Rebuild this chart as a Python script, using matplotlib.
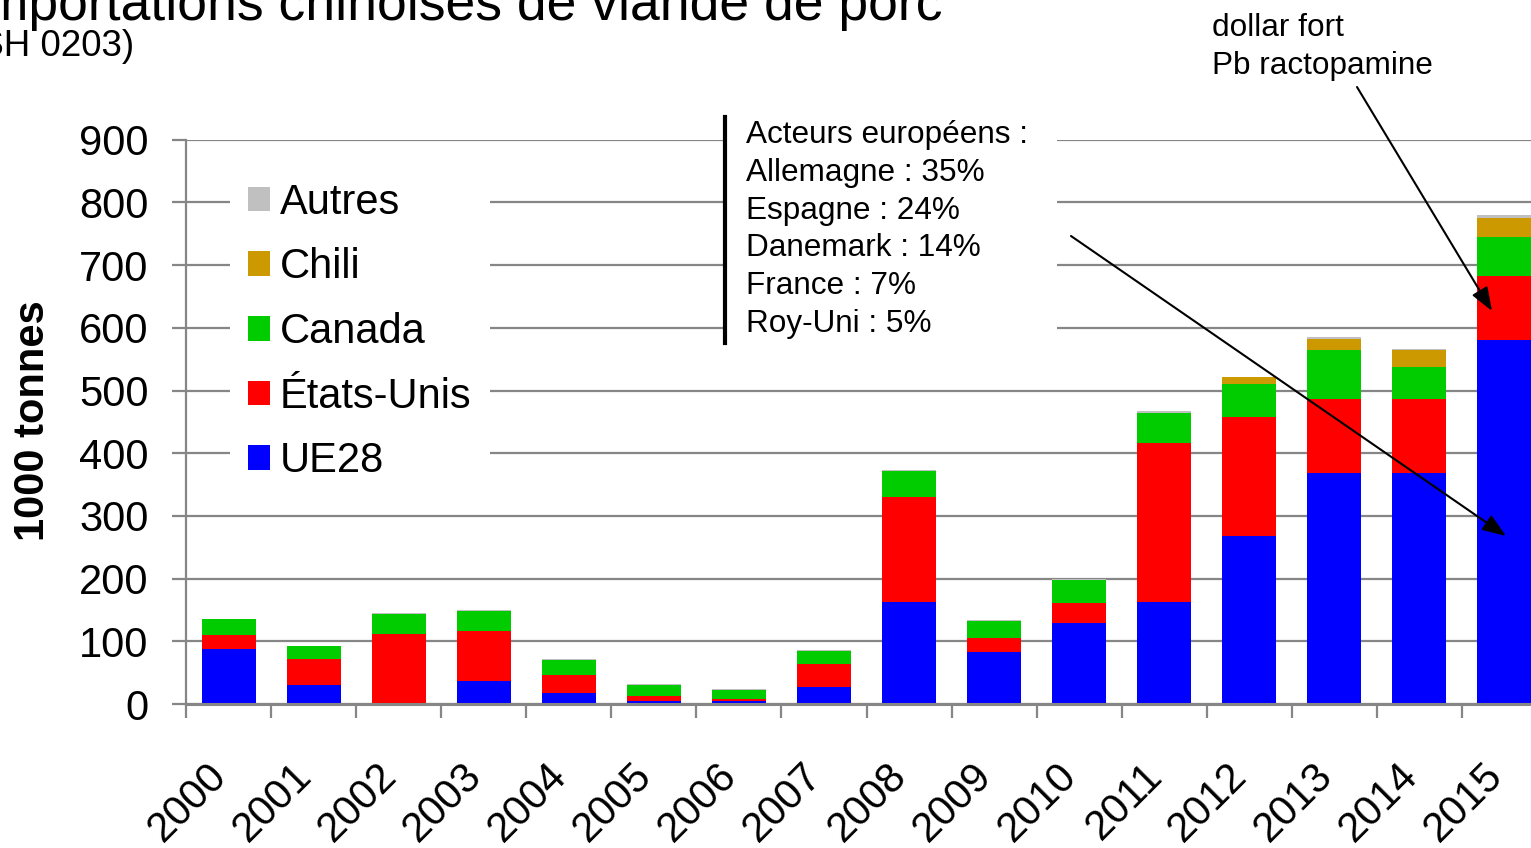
import matplotlib
matplotlib.use("Agg")
import matplotlib.pyplot as plt
import matplotlib.transforms as mtransforms
import numpy as np
from matplotlib.patches import Rectangle, FancyArrowPatch, ArrowStyle, Patch
from matplotlib.lines import Line2D

plt.rcParams['font.family'] = ['Liberation Sans', 'DejaVu Sans']

years = ['2000', '2001', '2002', '2003', '2004', '2005', '2006', '2007',
         '2008', '2009', '2010', '2011', '2012', '2013', '2014', '2015']
ue28 = [88, 31, 2, 37, 17, 5, 5, 27, 163, 83, 129, 163, 268, 369, 369, 581]
etats_unis = [22, 40, 109, 79, 30, 7, 3, 36, 167, 22, 32, 254, 189, 118, 118, 102]
canada = [25, 21, 33, 32, 23, 19, 15, 21, 42, 28, 37, 47, 54, 77, 51, 62]
chili = [0, 0, 0, 0, 0, 0, 0, 0, 0, 0, 0, 0, 10, 18, 26, 30]
autres = [1.1, 1, 1.1, 1.6, 1.1, 0.5, 1.1, 1.6, 1, 1.5, 1.1, 3.5, 1, 3, 1.6, 4.4]

series_names = ['UE28', 'États-Unis', 'Canada', 'Chili', 'Autres']
series_values = [ue28, etats_unis, canada, chili, autres]
series_colors = ['#0000FF', '#FF0000', '#00CC00', '#CC9900', '#C0C0C0']

W, H = 1531, 848
fig = plt.figure(figsize=(W / 100, H / 100), dpi=100)

def fx(px):
    return px / W

def fy(py):
    return 1 - py / H

ax_left, ax_right, ax_top, ax_bottom = 186, 1547, 139.7, 704
ax = fig.add_axes([fx(ax_left), fy(ax_bottom), fx(ax_right - ax_left), (ax_bottom - ax_top) / H])

x = np.arange(len(years))
bottom = np.zeros(len(years))
handles = []
for name, vals, col in zip(series_names, series_values, series_colors):
    v = np.array(vals, dtype=float)
    ax.bar(x, v, bottom=bottom, width=0.635, color=col, label=name, zorder=2)
    bottom += v
    handles.append(Patch(facecolor=col, edgecolor='none', label=name))

grey = '#868686'
ax.set_xlim(-0.5, len(years) - 0.5)
ax.set_ylim(0, 900)
ax.set_yticks(np.arange(0, 901, 100))
ax.set_axisbelow(True)
ax.yaxis.grid(True, color=grey, lw=1.6, zorder=0)
for s in ['top', 'right']:
    ax.spines[s].set_visible(False)
ax.spines['left'].set_color(grey)
ax.spines['left'].set_linewidth(1.6)
ax.spines['bottom'].set_color(grey)
ax.spines['bottom'].set_linewidth(2.2)

ax.set_xticks(x)
ax.set_xticklabels(years, rotation=45, ha='right', fontsize=30)
ax.set_xticks(np.arange(-0.5, len(years), 1), minor=True)
ax.tick_params(axis='x', which='major', length=0, pad=37)
ax.tick_params(axis='x', which='minor', length=10, width=1.6, color=grey, direction='out')
ax.tick_params(axis='y', length=10, width=1.6, color=grey, direction='out', pad=17, labelsize=30)
shift = mtransforms.ScaledTranslation(6 / 100, 0, fig.dpi_scale_trans)
for lbl in ax.get_xticklabels():
    lbl.set_transform(lbl.get_transform() + shift)

ax.set_ylabel('1000 tonnes', fontsize=30, fontweight='bold')
ax.yaxis.set_label_coords((53 - ax_left) / (ax_right - ax_left), (ax_bottom - 421) / (ax_bottom - ax_top))

leg = ax.legend(handles=handles[::-1], loc='upper left',
                bbox_to_anchor=(fx(230), fy(165)), bbox_transform=fig.transFigure,
                borderaxespad=0, borderpad=0.43, frameon=True, fancybox=False,
                facecolor='white', edgecolor='none', framealpha=1, fontsize=30,
                labelspacing=0.59, handlelength=0.53, handleheight=0.53,
                handletextpad=0.24)

# Title (partially cut off at top)
fig.text(fx(-31), fy(20), 'Importations chinoises de viande de porc', fontsize=38.5,
         va='baseline', ha='left')
fig.text(fx(-33), fy(56), '(SH 0203)', fontsize=26.5, va='baseline', ha='left')

# Annotation box: European actors
fig.add_artist(Rectangle((fx(725), fy(343)), fx(1057 - 725), (343 - 117) / H,
                         transform=fig.transFigure, facecolor='white',
                         edgecolor='none', zorder=3))
fig.add_artist(Line2D([fx(725), fx(725)], [fy(117), fy(343)], transform=fig.transFigure,
                      color='black', lw=3, zorder=4))
box_lines = ['Acteurs européens :', 'Allemagne : 35%', 'Espagne : 24%',
             'Danemark : 14%', 'France : 7%', 'Roy-Uni : 5%']
fig.text(fx(746), fy(332), '\n'.join(box_lines), fontsize=22.7, va='baseline',
         ha='left', linespacing=1.34, zorder=5)

fig.text(fx(1212), fy(74), 'dollar fort\nPb ractopamine', fontsize=22.7,
         va='baseline', ha='left', linespacing=1.34, zorder=5)

astyle = ArrowStyle('-|>', head_length=0.4, head_width=0.15)
for (x1, y1), (x2, y2) in [((1071, 236), (1506, 536)), ((1357, 87), (1492, 311))]:
    fig.add_artist(FancyArrowPatch((fx(x1), fy(y1)), (fx(x2), fy(y2)),
                                   transform=fig.transFigure, arrowstyle=astyle,
                                   mutation_scale=36, lw=1.5, color='black',
                                   shrinkA=0, shrinkB=0, zorder=6))

fig.savefig('out.png', dpi=100)
